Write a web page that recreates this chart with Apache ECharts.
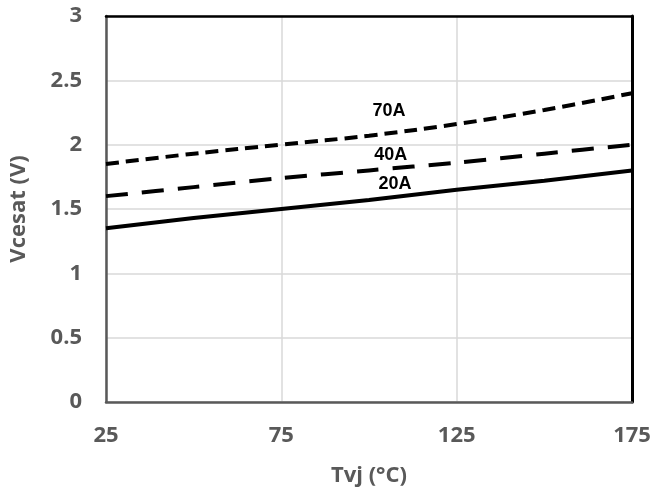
<!DOCTYPE html>
<html>
<head>
<meta charset="utf-8">
<script src="https://cdn.jsdelivr.net/npm/echarts@6/dist/echarts.min.js"></script>
<style>
html,body{margin:0;padding:0;background:#fff;}
#main{width:654px;height:495px;}
</style>
</head>
<body>
<div id="main"></div>
<script>
var temps = [25, 50, 75, 100, 125, 150, 175];
var v20A = [1.35, 1.43, 1.50, 1.57, 1.65, 1.72, 1.80];
var v40A = [1.60, 1.67, 1.74, 1.80, 1.86, 1.93, 2.00];
var v70A = [1.85, 1.93, 2.00, 2.07, 2.16, 2.27, 2.40];
var seriesNames = ['20A', '40A', '70A'];
var xTicks = [25, 75, 125, 175];
var yTicks = [0, 0.5, 1, 1.5, 2, 2.5, 3];

function pairs(xs, ys) { return xs.map(function (x, i) { return [x, ys[i]]; }); }

var tickFont = { fontFamily: 'Open Sans', fontWeight: 'bold', fontSize: 22, color: '#595959' };
var nameFont = { fontFamily: 'Open Sans', fontWeight: 'bold', fontSize: 22, color: '#595959' };
var labelStyle = { fontFamily: 'Liberation Sans', fontWeight: 'bold', fontSize: 18, color: '#000' };

function curveLabel(name, x, y) {
  return {
    symbol: 'circle', symbolSize: 0, silent: true,
    label: Object.assign({ show: true, position: 'inside', formatter: name }, labelStyle),
    data: [{ coord: [x, y] }]
  };
}

var xMin = xTicks[0], xMax = xTicks[xTicks.length - 1];
var yMin = yTicks[0], yMax = yTicks[yTicks.length - 1];

var chart = echarts.init(document.getElementById('main'), null, { renderer: 'canvas' });
chart.setOption({
  animation: false,
  backgroundColor: '#fff',
  grid: { left: 104, right: 22, top: 16, bottom: 93 },
  xAxis: [{
    type: 'value', min: xMin, max: xMax, interval: 50, position: 'bottom',
    name: 'Tvj (°C)', nameLocation: 'middle', nameGap: 63,
    nameTextStyle: nameFont,
    axisLine: { show: true, lineStyle: { color: '#595959', width: 2.5 } },
    axisTick: { show: false },
    axisLabel: Object.assign({ margin: 23 }, tickFont),
    splitLine: { show: true, lineStyle: { color: '#d9d9d9', width: 1.5 } }
  }, {
    type: 'value', min: xMin, max: xMax, interval: 50, position: 'top',
    axisLine: { show: true, onZero: false, lineStyle: { color: '#000', width: 2.5 } },
    axisTick: { show: false }, axisLabel: { show: false }, splitLine: { show: false }
  }],
  yAxis: [{
    type: 'value', min: yMin, max: yMax, interval: 0.5, position: 'left',
    name: 'Vcesat (V)', nameLocation: 'middle', nameGap: 76,
    nameTextStyle: nameFont,
    axisLine: { show: true, lineStyle: { color: '#595959', width: 2.5 } },
    axisTick: { show: false },
    axisLabel: Object.assign({ margin: 24 }, tickFont),
    splitLine: { show: true, lineStyle: { color: '#d9d9d9', width: 1.5 } }
  }, {
    type: 'value', min: yMin, max: yMax, interval: 0.5, position: 'right',
    axisLine: { show: true, onZero: false, lineStyle: { color: '#000', width: 3 } },
    axisTick: { show: false }, axisLabel: { show: false }, splitLine: { show: false }
  }],
  series: [
    {
      name: seriesNames[0], type: 'line', data: pairs(temps, v20A), symbol: 'none', z: 5,
      lineStyle: { color: '#000', width: 4, type: 'solid' },
      markPoint: curveLabel(seriesNames[0], 107.4, 1.694)
    },
    {
      name: seriesNames[1], type: 'line', data: pairs(temps, v40A), symbol: 'none', smooth: 0.3, z: 5,
      lineStyle: { color: '#000', width: 4, type: [22, 14], cap: 'butt' },
      markPoint: curveLabel(seriesNames[1], 106.2, 1.92)
    },
    {
      name: seriesNames[2], type: 'line', data: pairs(temps, v70A), symbol: 'none', smooth: 0.4, z: 5,
      lineStyle: { color: '#000', width: 4, type: [13, 7], cap: 'butt' },
      markPoint: curveLabel(seriesNames[2], 105.7, 2.26)
    }
  ]
});
</script>
</body>
</html>
